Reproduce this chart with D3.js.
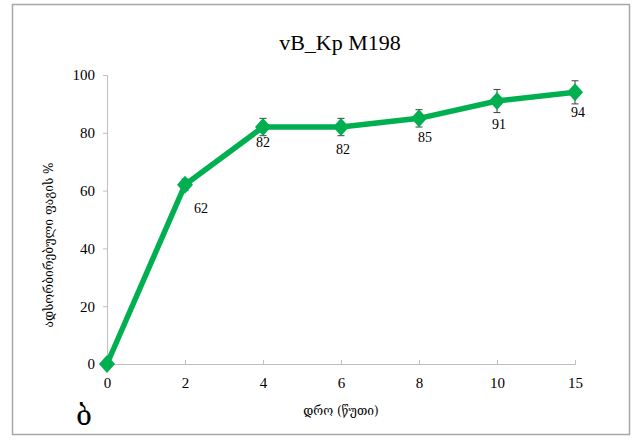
<!DOCTYPE html>
<html>
<head>
<meta charset="utf-8">
<script src="https://d3js.org/d3.v7.min.js"></script>
<style>
  body { margin: 0; background: #fff; }
  svg { display: block; }
</style>
</head>
<body>
<svg id="chart"></svg>
<script>
// data
const times = ["0", "2", "4", "6", "8", "10", "15"];
const adsorbed = [0, 62, 82, 82, 85, 91, 94];
const errors = [0, 2, 3, 3, 3, 4, 4];
const yTicks = [0, 20, 40, 60, 80, 100];

// label placement (dx, dy from the point), like the hand-moved labels in the original
const labelNudge = [[0, 0], [16, 28], [0, 20], [2, 27], [6, 24], [2, 28], [3, 25]];

(function() {
  const width = 640;
  const height = 442;
  const serif = "'Liberation Serif', 'DejaVu Serif', serif";
  const geo = "'DejaVu Serif', 'DejaVu Sans', serif";
  const green = "#00b050";

  const svg = d3.select("#chart")
      .attr("width", width)
      .attr("height", height);

  // frame
  svg.append("rect")
      .attr("x", 12.5).attr("y", 4.5)
      .attr("width", 617).attr("height", 430)
      .attr("fill", "#fff")
      .attr("stroke", "#a6a6a6")
      .attr("stroke-width", 1.5);

  const x = d3.scalePoint()
      .domain(times)
      .range([107, 575]);

  const y = d3.scaleLinear()
      .domain([0, 100])
      .range([364, 75]);

  // y axis
  const yAxis = svg.append("g")
      .attr("transform", "translate(107,0)")
      .call(d3.axisLeft(y).tickValues(yTicks).tickSize(4).tickPadding(8))
      .attr("font-family", serif)
      .attr("font-size", 15);
  yAxis.select(".domain").attr("stroke", "#bfbfbf");
  yAxis.selectAll(".tick line").attr("stroke", "#bfbfbf");
  yAxis.selectAll("text")
      .style("font-family", serif)
      .attr("fill", "#000");

  // x axis, ticks pointing up into the plot
  const xAxis = svg.append("g")
      .attr("transform", "translate(0,364)")
      .call(d3.axisBottom(x).tickSizeInner(-4).tickSizeOuter(-4).tickPadding(13))
      .attr("font-family", serif)
      .attr("font-size", 15);
  xAxis.select(".domain").attr("stroke", "#bfbfbf");
  xAxis.selectAll(".tick line").attr("stroke", "#bfbfbf");
  xAxis.selectAll("text")
      .style("font-family", serif)
      .attr("fill", "#000");

  // error bars
  const bars = svg.append("g")
      .attr("stroke", "#404040")
      .attr("stroke-width", 1);
  adsorbed.forEach(function(v, i) {
    if (!errors[i]) return;
    const cx = x(times[i]);
    bars.append("line")
        .attr("x1", cx).attr("x2", cx)
        .attr("y1", y(v + errors[i])).attr("y2", y(v - errors[i]));
    [v + errors[i], v - errors[i]].forEach(function(e) {
      bars.append("line")
          .attr("x1", cx - 3.5).attr("x2", cx + 3.5)
          .attr("y1", y(e)).attr("y2", y(e));
    });
  });

  // line
  const line = d3.line()
      .x(function(d, i) { return x(times[i]); })
      .y(function(d) { return y(d); });

  svg.append("path")
      .datum(adsorbed)
      .attr("d", line)
      .attr("fill", "none")
      .attr("stroke", green)
      .attr("stroke-width", 5.5)
      .attr("stroke-linejoin", "round");

  // diamond markers
  svg.selectAll(".marker")
      .data(adsorbed)
      .enter()
      .append("path")
      .attr("class", "marker")
      .attr("d", "M0,-9L8,0L0,9L-8,0Z")
      .attr("transform", function(d, i) {
        return "translate(" + x(times[i]) + "," + y(d) + ")";
      })
      .attr("fill", green);

  // value labels
  svg.selectAll(".val")
      .data(adsorbed)
      .enter()
      .filter(function(d, i) { return i > 0; })
      .append("text")
      .attr("class", "val")
      .attr("x", function(d, i) { return x(times[i + 1]) + labelNudge[i + 1][0]; })
      .attr("y", function(d, i) { return y(d) + labelNudge[i + 1][1]; })
      .attr("text-anchor", "middle")
      .style("font-family", serif)
      .attr("font-size", 14)
      .text(function(d) { return d; });

  // titles
  svg.append("text")
      .attr("x", 340).attr("y", 50)
      .attr("text-anchor", "middle")
      .style("font-family", serif)
      .attr("font-size", 22)
      .text("vB_Kp M198");

  svg.append("text")
      .attr("x", 341).attr("y", 415)
      .attr("text-anchor", "middle")
      .style("font-family", geo)
      .attr("font-size", 12)
      .text("დრო (წუთი)");

  svg.append("text")
      .attr("transform", "translate(53,245) rotate(-90)")
      .attr("text-anchor", "middle")
      .style("font-family", geo)
      .attr("font-size", 12)
      .text("ადსორბირებული ფაგის %");

  svg.append("text")
      .attr("x", 84).attr("y", 425)
      .attr("text-anchor", "middle")
      .style("font-family", geo)
      .attr("font-size", 28)
      .text("ბ");
})();
</script>
</body>
</html>
